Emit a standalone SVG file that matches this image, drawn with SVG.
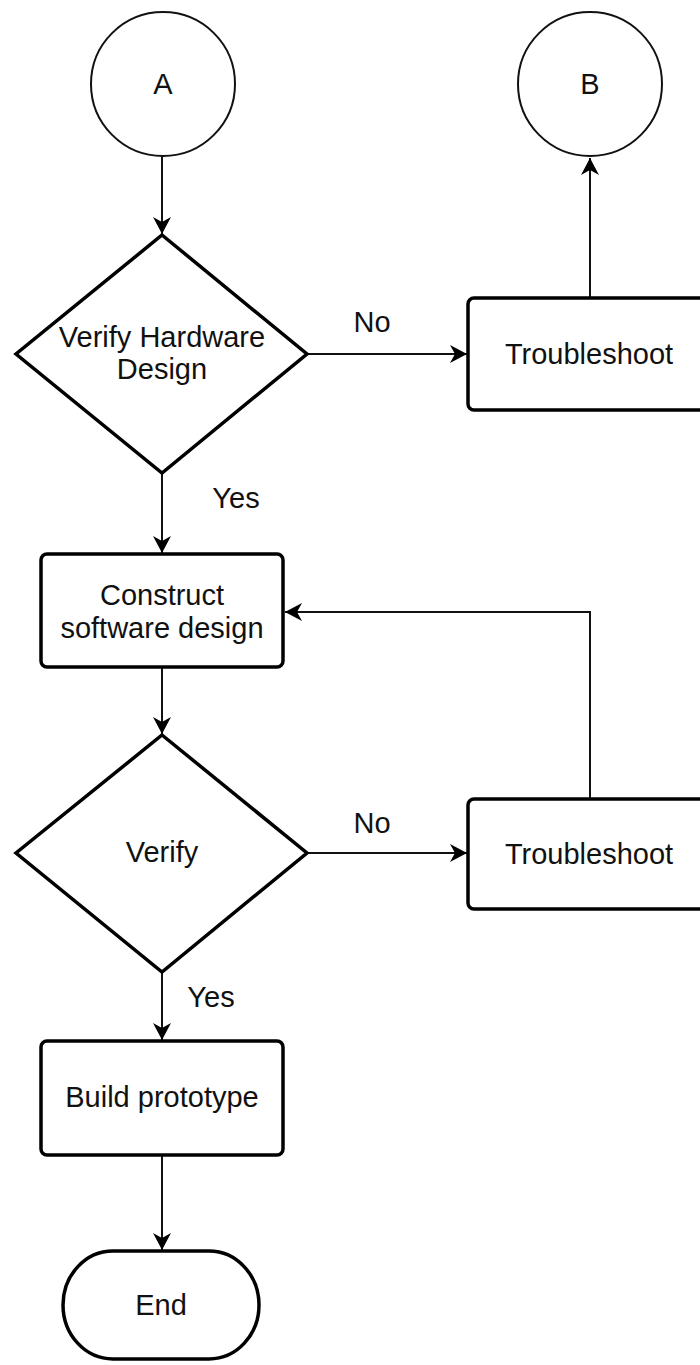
<svg xmlns="http://www.w3.org/2000/svg" width="700" height="1365" viewBox="0 0 700 1365">
  <defs>
    <style>
      .lbl { font-family: "Liberation Sans", Arial, sans-serif; font-size: 29px; fill: #111; text-anchor: middle; }
      .circle { fill: #fff; stroke: #111; stroke-width: 2; }
      .shape { fill: #fff; stroke: #000; stroke-width: 3.5; stroke-linejoin: miter; }
      .box { fill: #fff; stroke: #000; stroke-width: 3.5; }
      .edge { fill: none; stroke: #111; stroke-width: 2; marker-end: url(#arrow); }
    </style>
    <marker id="arrow" markerUnits="userSpaceOnUse" viewBox="-18 -10 19 20" refX="0" refY="0" markerWidth="19" markerHeight="20" orient="auto">
      <path d="M0,0 L-17,-9 L-12,0 L-17,9 Z" fill="#000"/>
    </marker>
  </defs>

  <rect width="700" height="1365" fill="#fff"/>

  <!-- connectors -->
  <g id="connectors">
    <path class="edge" d="M162,156 L162,234"/>
    <path class="edge" d="M307,354 L467,354"/>
    <path class="edge" d="M590,298 L590,158"/>
    <path class="edge" d="M162,473 L162,553"/>
    <path class="edge" d="M162,667 L162,734"/>
    <path class="edge" d="M307,853 L467,853"/>
    <path class="edge" d="M590,799 L590,612 L285,612"/>
    <path class="edge" d="M162,972 L162,1040"/>
    <path class="edge" d="M162,1155 L162,1250"/>
    <text class="lbl" x="372" y="332">No</text>
    <text class="lbl" x="236" y="508">Yes</text>
    <text class="lbl" x="372" y="833">No</text>
    <text class="lbl" x="211" y="1007">Yes</text>
  </g>

  <g id="node-a">
    <circle class="circle" cx="163" cy="84" r="72"/>
    <text class="lbl" x="163" y="94">A</text>
  </g>

  <g id="node-b">
    <circle class="circle" cx="590" cy="84" r="72"/>
    <text class="lbl" x="590" y="94">B</text>
  </g>

  <g id="verify-hardware">
    <polygon class="shape" points="162,235 307,354 162,473 16,354"/>
    <text class="lbl" x="162" y="347">Verify Hardware</text>
    <text class="lbl" x="162" y="379">Design</text>
  </g>

  <g id="troubleshoot-1">
    <rect class="box" x="468" y="298" width="242" height="112" rx="6"/>
    <text class="lbl" x="589" y="364">Troubleshoot</text>
  </g>

  <g id="construct-software">
    <rect class="box" x="41" y="554" width="242" height="113" rx="6"/>
    <text class="lbl" x="162" y="605">Construct</text>
    <text class="lbl" x="162" y="638">software design</text>
  </g>

  <g id="verify">
    <polygon class="shape" points="162,735 307,853 162,972 16,853"/>
    <text class="lbl" x="162" y="862">Verify</text>
  </g>

  <g id="troubleshoot-2">
    <rect class="box" x="468" y="799" width="242" height="110" rx="6"/>
    <text class="lbl" x="589" y="864">Troubleshoot</text>
  </g>

  <g id="build-prototype">
    <rect class="box" x="41" y="1041" width="242" height="114" rx="6"/>
    <text class="lbl" x="162" y="1107">Build prototype</text>
  </g>

  <g id="end">
    <rect class="box" x="63" y="1251" width="196" height="108" rx="50" ry="54"/>
    <text class="lbl" x="161" y="1315">End</text>
  </g>
</svg>
